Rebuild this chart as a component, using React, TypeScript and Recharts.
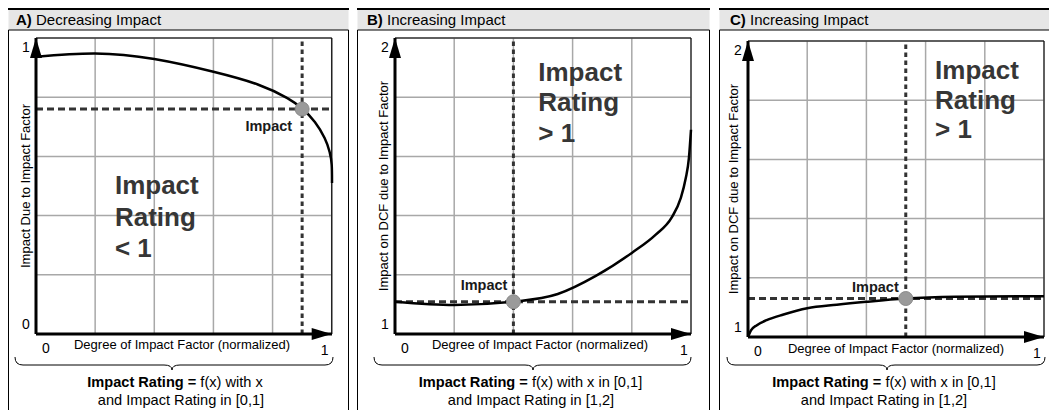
import React from 'react';
import {
  LineChart,
  Line,
  XAxis,
  YAxis,
  CartesianGrid,
  ReferenceLine,
  ReferenceDot,
  ReferenceArea,
} from 'recharts';

const FONT = '"Liberation Sans", Arial, Helvetica, sans-serif';

// ---------- data ----------
const panelLetters = ['A)', 'B)', 'C)'];
const panelTitles = ['Decreasing Impact', 'Increasing Impact', 'Increasing Impact'];
const yAxisTitles = [
  'Impact Due to Impact Factor',
  'Impact on DCF due to Impact Factor',
  'Impact on DCF due to Impact Factor',
];
const xAxisTitle = 'Degree of Impact Factor (normalized)';

const gridX = [0, 0.2, 0.4, 0.6, 0.8, 1];
const gridYA = [0, 0.2, 0.4, 0.6, 0.8, 1];
const gridYBC = [1, 1.2, 1.4, 1.6, 1.8, 2];
const domainA = [0, 1];
const domainBC = [1, 2];

const xA = [0, 0.2, 0.4, 0.6, 0.75, 0.85, 0.902, 0.943, 0.976, 0.993, 1.0, 1.001];
const yA = [0.937, 0.948, 0.929, 0.886, 0.843, 0.797, 0.76, 0.716, 0.662, 0.615, 0.571, 0.51];

const xB = [0, 0.2, 0.4, 0.55, 0.68, 0.8, 0.88, 0.935, 0.965, 0.982, 0.993, 1.0];
const yB = [1.109, 1.098, 1.109, 1.135, 1.197, 1.274, 1.335, 1.394, 1.458, 1.525, 1.595, 1.69];

const xC = [0, 0.01, 0.03, 0.063, 0.12, 0.2, 0.3, 0.4, 0.53, 0.7, 1.0];
const yC = [1.0, 1.022, 1.04, 1.057, 1.076, 1.097, 1.109, 1.119, 1.13, 1.136, 1.138];

const curveTypes = ['natural', 'monotone', 'monotone'];

const impactX = [0.9, 0.4, 0.533];
const impactY = [0.76, 1.109, 1.13];

const ratingWords = [
  ['Impact', 'Rating', '< 1'],
  ['Impact', 'Rating', '> 1'],
  ['Impact', 'Rating', '> 1'],
];
const ratingPosX = [0.267, 0.484, 0.632];
const ratingPosY = [0.503, 1.886, 1.902];

const captionBold = 'Impact Rating =';
const captionRest = [' f(x) with x', ' f(x) with x in [0,1]', ' f(x) with x in [0,1]'];
const captionLine2 = ['and Impact Rating in [0,1]', 'and Impact Rating in [1,2]', 'and Impact Rating in [1,2]'];

const toRows = (xs: number[], ys: number[]) => xs.map((x, i) => ({ x, y: ys[i] }));
const seriesData = [toRows(xA, yA), toRows(xB, yB), toRows(xC, yC)];
const domains = [domainA, domainBC, domainBC];
const gridsY = [gridYA, gridYBC, gridYBC];

// ---------- layout (positions only) ----------
const layouts = [
  {
    left: 8, top: 30, width: 340, height: 380,
    margin: { top: 8, right: 16, bottom: 56, left: 8 },
    boxL: 8.5, boxR: 348.5, headX: 16,
    brace: { x0: 15, x1: 333, xc: 172 },
    cap1: 175, cap2: 181,
    ytDx: -11, xtDx: -2, xtDy: 10,
    impDx: -10, impDy: 17, rateGap: 31.5,
  },
  {
    left: 358, top: 30, width: 351, height: 380,
    margin: { top: 8, right: 18, bottom: 56, left: 17 },
    boxL: 357.5, boxR: 709.5, headX: 367,
    brace: { x0: 374, x1: 691, xc: 533 },
    cap1: 530.5, cap2: 531,
    ytDx: -12, xtDx: -3, xtDy: 10,
    impDx: -6, impDy: -17, rateGap: 30.5,
  },
  {
    left: 720, top: 30, width: 329, height: 380,
    margin: { top: 11, right: 5, bottom: 53, left: 8 },
    boxL: 719.5, boxR: 1049.5, headX: 730,
    brace: { x0: 727, x1: 1045, xc: 887 },
    cap1: 884, cap2: 884,
    ytDx: -14.5, xtDx: 0, xtDy: 11,
    impDx: -7, impDy: -12, rateGap: 29.5,
  },
];

const XTick = (p: any) => {
  const v = p.payload && p.payload.value;
  if (v !== 0 && v !== 1) return <g />;
  const dx = v === 0 ? 10 : -7;
  const dy = v === 0 ? 14 : 16;
  return (
    <text x={p.x + dx} y={p.y + dy} textAnchor="middle" dominantBaseline="central"
      fontSize={14} fontFamily={FONT} fill="#000">
      {String(v)}
    </text>
  );
};

const makeYTick = (dom: number[]) => (p: any) => {
  const v = p.payload && p.payload.value;
  if (v !== dom[0] && v !== dom[1]) return <g />;
  const dy = v === dom[1] ? 9 : -10;
  return (
    <text x={p.x - 10} y={p.y + dy} textAnchor="middle" dominantBaseline="central"
      fontSize={14} fontFamily={FONT} fill="#000">
      {String(v)}
    </text>
  );
};

const Panel = ({ i }: { i: number }) => {
  const L = layouts[i];
  const dom = domains[i];
  const YTick = makeYTick(dom);
  const words = ratingWords[i];
  return (
    <div style={{ position: 'absolute', left: L.left, top: L.top, width: L.width, height: L.height }}>
      <LineChart width={L.width} height={L.height} data={seriesData[i]} margin={L.margin}>
        <CartesianGrid stroke="#a8a8a8" strokeWidth={1.5} />
        <XAxis
          type="number" dataKey="x" domain={[0, 1]} ticks={gridX} interval={0}
          height={20} tickSize={0} tickMargin={0} tickLine={false}
          axisLine={{ stroke: '#000', strokeWidth: 3 }}
          tick={<XTick />}
          label={{
            content: (lp: any) => {
              const vb = lp.viewBox || {};
              return (
                <text x={vb.x + vb.width / 2 + L.xtDx} y={vb.y + L.xtDy} textAnchor="middle"
                  dominantBaseline="central" fontSize={13} fontFamily={FONT} fill="#000">
                  {xAxisTitle}
                </text>
              );
            },
          }}
        />
        <YAxis
          type="number" domain={dom} ticks={gridsY[i]} interval={0}
          width={20} tickSize={0} tickMargin={0} tickLine={false}
          axisLine={{ stroke: '#000', strokeWidth: 3 }}
          tick={<YTick />}
          label={{
            content: (lp: any) => {
              const vb = lp.viewBox || {};
              const cx = vb.x + vb.width + L.ytDx;
              const cy = vb.y + vb.height / 2;
              return (
                <text x={cx} y={cy} transform={`rotate(-90 ${cx} ${cy})`} textAnchor="middle"
                  dominantBaseline="central" fontSize={13} fontFamily={FONT} fill="#000">
                  {yAxisTitles[i]}
                </text>
              );
            },
          }}
        />
        <ReferenceArea x1={0} x2={1} y1={dom[0]} y2={dom[1]} fill="none" fillOpacity={0}
          stroke="#000" strokeWidth={1} ifOverflow="visible" />
        <ReferenceLine y={impactY[i]} stroke="#333" strokeWidth={3} strokeDasharray="7 4" />
        <ReferenceLine x={impactX[i]} stroke="#333" strokeWidth={3} strokeDasharray="4.5 3.5" />
        <Line type={curveTypes[i] as any} dataKey="y" stroke="#000" strokeWidth={2.5} dot={false}
          activeDot={false} isAnimationActive={false} />
        <ReferenceDot x={impactX[i]} y={impactY[i]} r={7} ifOverflow="visible"
          shape={(sp: any) => (
            <g>
              <circle cx={sp.cx} cy={sp.cy} r={7} fill="#9a9a9a" stroke="#8a8a8a" strokeWidth={1} />
              <text x={sp.cx + L.impDx} y={sp.cy + L.impDy} textAnchor="end" dominantBaseline="central"
                fontSize={14.5} fontWeight="bold" fontFamily={FONT} fill="#1a1a1a">
                Impact
              </text>
            </g>
          )}
        />
        <ReferenceDot x={0} y={dom[1]} r={1} ifOverflow="visible"
          shape={(sp: any) => (
            <path d={`M${sp.cx},${sp.cy} L${sp.cx - 6},${sp.cy + 20} L${sp.cx + 6},${sp.cy + 20} Z`} fill="#000" />
          )}
        />
        <ReferenceDot x={1} y={dom[0]} r={1} ifOverflow="visible"
          shape={(sp: any) => (
            <path d={`M${sp.cx},${sp.cy} L${sp.cx - 20},${sp.cy - 6} L${sp.cx - 20},${sp.cy + 6} Z`} fill="#000" />
          )}
        />
        <ReferenceDot x={ratingPosX[i]} y={ratingPosY[i]} r={1} ifOverflow="visible"
          shape={(sp: any) => (
            <text x={sp.cx} y={sp.cy} fontSize={26} fontWeight="bold" fontFamily={FONT} fill="#363636">
              {words.map((w, k) => (
                <tspan key={k} x={sp.cx} y={sp.cy + k * L.rateGap} dominantBaseline="central">{w}</tspan>
              ))}
            </text>
          )}
        />
      </LineChart>
    </div>
  );
};

const Frame = () => (
  <svg width={1049} height={410} style={{ position: 'absolute', left: 0, top: 0 }}>
    {layouts.map((L, i) => {
      const b = L.brace;
      const yTop = 357, yLine = 365, yTip = 370;
      const brace = `M${b.x0},${yTop} Q${b.x0},${yLine} ${b.x0 + 8},${yLine} L${b.xc - 8},${yLine} Q${b.xc},${yLine} ${b.xc},${yTip} Q${b.xc},${yLine} ${b.xc + 8},${yLine} L${b.x1 - 8},${yLine} Q${b.x1},${yLine} ${b.x1},${yTop}`;
      return (
        <g key={i}>
          <rect x={L.boxL} y={9} width={L.boxR - L.boxL} height={21} fill="#e6e6e6" />
          <line x1={L.boxL - 0.5} x2={L.boxR + 0.5} y1={9} y2={9} stroke="#000" strokeWidth={2} />
          <line x1={L.boxL} x2={L.boxR} y1={30} y2={30} stroke="#000" strokeWidth={1.2} />
          <line x1={L.boxL} x2={L.boxL} y1={30} y2={410} stroke="#000" strokeWidth={1} />
          <line x1={L.boxR} x2={L.boxR} y1={30} y2={410} stroke="#000" strokeWidth={1} />
          <text x={L.headX} y={25} fontSize={15} fontFamily={FONT} fill="#000">
            <tspan fontWeight="bold">{panelLetters[i]}</tspan>
            <tspan> {panelTitles[i]}</tspan>
          </text>
          <path d={brace} fill="none" stroke="#000" strokeWidth={1} />
          <text x={L.cap1} y={382} textAnchor="middle" dominantBaseline="central" fontSize={14.6}
            fontFamily={FONT} fill="#000">
            <tspan fontWeight="bold">{captionBold}</tspan>
            <tspan>{captionRest[i]}</tspan>
          </text>
          <text x={L.cap2} y={400} textAnchor="middle" dominantBaseline="central" fontSize={14.6}
            fontFamily={FONT} fill="#000">
            {captionLine2[i]}
          </text>
        </g>
      );
    })}
  </svg>
);

export default function App() {
  return (
    <div style={{ position: 'absolute', left: 0, top: 0, width: 1049, height: 410, background: '#fff', overflow: 'hidden' }}>
      <Frame />
      {[0, 1, 2].map((i) => (
        <Panel key={i} i={i} />
      ))}
    </div>
  );
}
